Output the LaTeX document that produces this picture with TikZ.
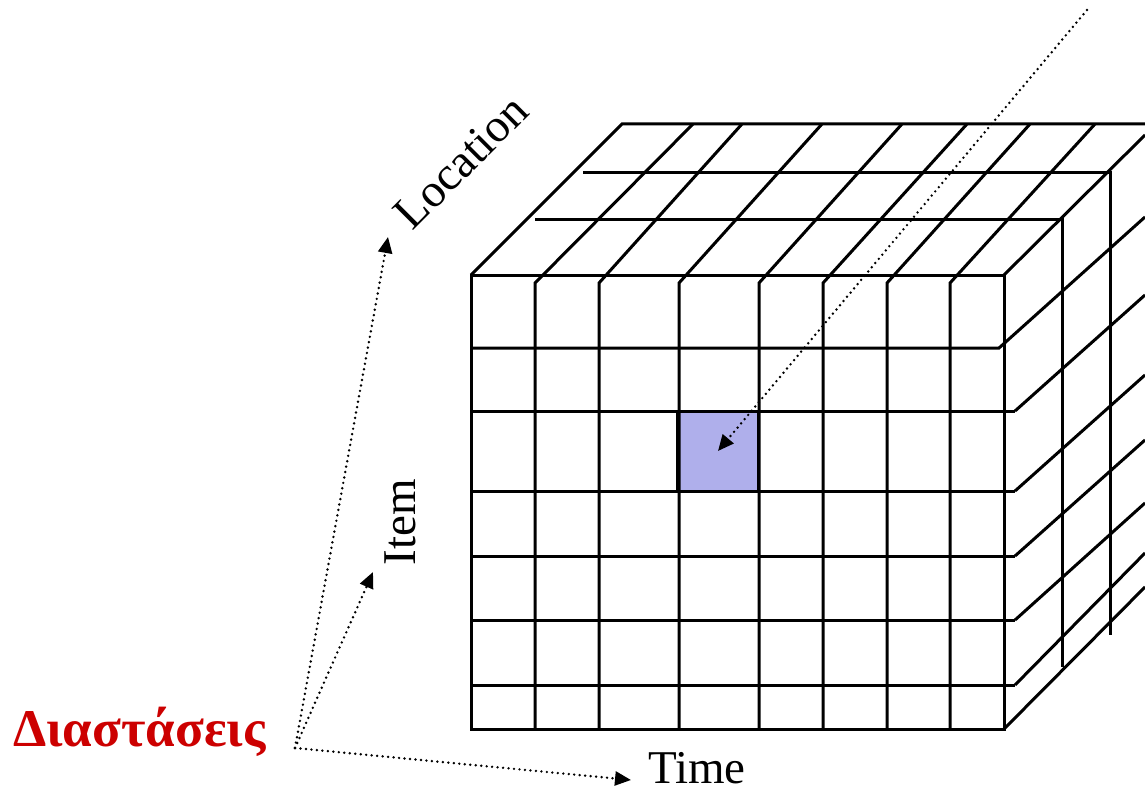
\documentclass[tikz,border=0pt]{standalone}
\usepackage{fontspec}
\setmainfont{Liberation Serif}
\usetikzlibrary{arrows.meta}
\definecolor{cellblue}{RGB}{175,175,235}
\definecolor{dimred}{RGB}{204,0,0}
\begin{document}
\begin{tikzpicture}[x=1pt,y=-1pt,
  grid/.style={line width=3pt, line join=miter},
  dotarrow/.style={line width=2.7pt, dash pattern=on 0pt off 5.5pt, line cap=round,
    -{Triangle[length=16pt,width=14pt]}},
  lbl/.style={font=\fontsize{47}{50}\selectfont, inner sep=0pt},
  dimlbl/.style={font=\fontsize{53}{56}\selectfont\bfseries, text=dimred, inner sep=0pt}]
\useasboundingbox (0,0) rectangle (1145,789);
\begin{scope}
\clip (0,0) rectangle (1145,789);
% highlighted cell
\fill[cellblue] (677,411) rectangle (758,491);
% front face
\draw[grid] (471,275) rectangle (1004,729);
\foreach \y in {411,491,556,620,685}
  \draw[grid] (471,\y) -- (1015,\y);
\draw[grid] (471,348) -- (999,348) -- (1145,217);
\draw[grid] (1015,411) -- (1145,295);
\draw[grid] (1015,491) -- (1145,375);
\draw[grid] (1015,556) -- (1145,440);
\draw[grid] (1015,620) -- (1145,503);
\draw[grid] (1015,685) -- (1145,553);
% verticals bending into the top face
\foreach \x/\t in {535/693,599/742,679/822,759/902,823/967,887/1030,950/1095}
  \draw[grid] (\x,729) -- (\x,283) -- (\t,124);
% top face outline and depth lines
\draw[grid] (471,275) -- (622,124) -- (1145,124);
\draw[grid] (583,172) -- (1110,172) -- (1110,635);
\draw[grid] (535,219) -- (1062,219) -- (1062,667);
\draw[grid] (1004,275) -- (1145,135);
\draw[grid] (1004,729) -- (1145,587);
% highlighted cell border
\draw[grid] (677,411) rectangle (758,491);
\end{scope}
% labels
\node[lbl, rotate=45] (location) at (461,162) {Location};
\node[lbl, rotate=90] (item) at (400,522) {Item};
\node[lbl] (time) at (697,768) {Time};
\node[dimlbl, anchor=base west] (dims) at (13,746) {Διαστάσεις};
% dotted arrows
\coordinate (origin) at (295,748);
\coordinate (loctip) at (388,237);
\coordinate (itemtip) at (373,572);
\coordinate (timetip) at (631,780);
\coordinate (farend) at (1087,10);
\coordinate (celltip) at (718,451);
\draw[dotarrow] (origin) -- (loctip);
\draw[dotarrow] (origin) -- (itemtip);
\draw[dotarrow] (origin) -- (timetip);
\draw[dotarrow] (farend) -- (celltip);
\end{tikzpicture}
\end{document}
